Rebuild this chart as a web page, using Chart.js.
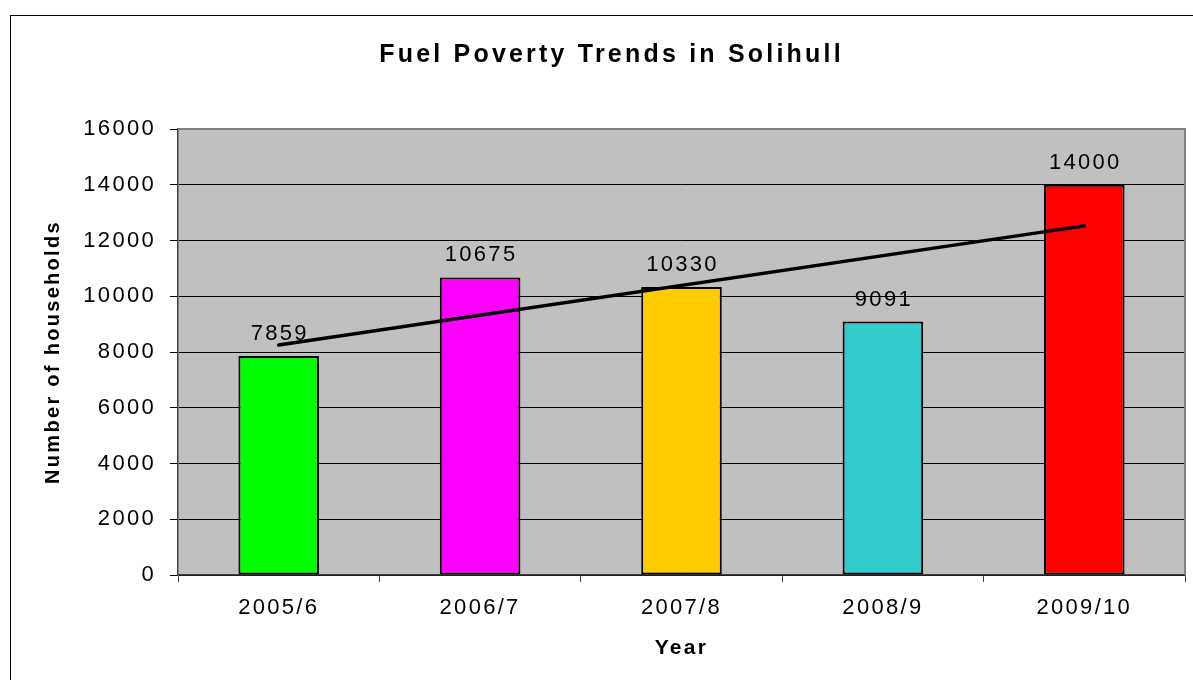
<!DOCTYPE html>
<html>
<head>
<meta charset="utf-8">
<script src="https://cdn.jsdelivr.net/npm/chart.js@4"></script>
<style>
  html, body { margin: 0; padding: 0; background: #fff; overflow: hidden; width: 1193px; height: 680px; }
  #frame { position: absolute; left: 10px; top: 15px; width: 1199px; height: 700px; border: 1px solid #000; }
  #wrap { position: absolute; left: 0; top: 0; width: 1199px; height: 664px; }
</style>
</head>
<body>
<div id="frame"><div id="wrap"><canvas id="fuelChart"></canvas></div></div>
<script>
const years = ["2005/6", "2006/7", "2007/8", "2008/9", "2009/10"];
const households = [7859, 10675, 10330, 9091, 14000];
const barColours = ["#00FF00", "#FF00FF", "#FFCC00", "#33CCCC", "#FF0000"];
// trend line: start and end only
const trend = [8250, null, null, null, 12525];
const yTicks = [0, 2000, 4000, 6000, 8000, 10000, 12000, 14000, 16000];

const chartTitle = "Fuel Poverty Trends in Solihull";
const FONT = "'Liberation Sans', Arial, sans-serif";

Chart.defaults.font.family = FONT;
Chart.defaults.color = "#000";

function spacing(chart) {
  chart.ctx.letterSpacing = "2.3px";
}

const excelLook = {
  id: "excelLook",
  beforeLayout: spacing,
  beforeDraw(chart) {
    spacing(chart);
    const { ctx, chartArea: a } = chart;
    ctx.save();
    ctx.fillStyle = "#C0C0C0";
    ctx.fillRect(a.left, a.top, a.right - a.left, a.bottom - a.top);
    ctx.restore();
  },
  afterDatasetsDraw(chart) {
    const { ctx, chartArea: a } = chart;
    ctx.save();
    // grey top / right plot border
    ctx.strokeStyle = "#808080";
    ctx.lineWidth = 2;
    ctx.beginPath();
    ctx.moveTo(a.left, a.top);
    ctx.lineTo(a.right, a.top);
    ctx.lineTo(a.right, a.bottom);
    ctx.stroke();

    // value labels above bars
    ctx.letterSpacing = "2.3px";
    ctx.font = "22px " + FONT;
    ctx.fillStyle = "#000";
    ctx.textAlign = "center";
    ctx.textBaseline = "alphabetic";
    chart.getDatasetMeta(1).data.forEach((bar, i) => {
      ctx.fillText(String(households[i]), bar.x + 1, bar.y - 16);
    });

    // chart title
    ctx.letterSpacing = "3.2px";
    ctx.font = "bold 25px " + FONT;
    ctx.fillText(chartTitle, chart.width / 2 + 1, 46);
    ctx.restore();
  }
};

new Chart(document.getElementById("fuelChart"), {
  type: "bar",
  data: {
    labels: years,
    datasets: [
      {
        type: "line",
        label: "Trend",
        data: trend,
        spanGaps: true,
        borderColor: "#000",
        borderWidth: 3.5,
        borderCapStyle: "round",
        pointRadius: 0,
        order: 0
      },
      {
        label: "Households",
        data: households,
        backgroundColor: barColours,
        borderColor: "#000",
        borderWidth: 2,
        borderSkipped: false,
        barPercentage: 0.4,
        categoryPercentage: 1,
        order: 1
      }
    ]
  },
  options: {
    responsive: true,
    maintainAspectRatio: false,
    animation: false,
    layout: { padding: { top: 113, right: 25, left: 0, bottom: 0 } },
    plugins: {
      legend: { display: false },
      title: { display: false },
      tooltip: { enabled: false }
    },
    scales: {
      x: {
        grid: { offset: true, drawOnChartArea: false, drawTicks: true, tickLength: 7, color: "#404040" },
        border: { color: "#404040", width: 1.5 },
        ticks: { font: { size: 22 }, padding: 13, maxRotation: 0 },
        title: { display: true, text: "Year", font: { size: 21, weight: "bold" }, padding: { top: 0, bottom: 19 } },
        afterFit(scale) { scale.height = 105; }
      },
      y: {
        min: 0,
        max: 16000,
        afterBuildTicks(scale) { scale.ticks = yTicks.map((v) => ({ value: v })); },
        grid: { color: "#000", lineWidth: 1, tickLength: 8 },
        border: { color: "#404040", width: 1.5 },
        ticks: { font: { size: 22 }, padding: 14, callback: (v) => String(v) },
        title: { display: true, text: "Number of households", font: { size: 20, weight: "bold" }, padding: { top: 30, bottom: 0 } },
        afterFit(scale) { scale.width = 167; }
      }
    }
  },
  plugins: [excelLook]
});
</script>
</body>
</html>
